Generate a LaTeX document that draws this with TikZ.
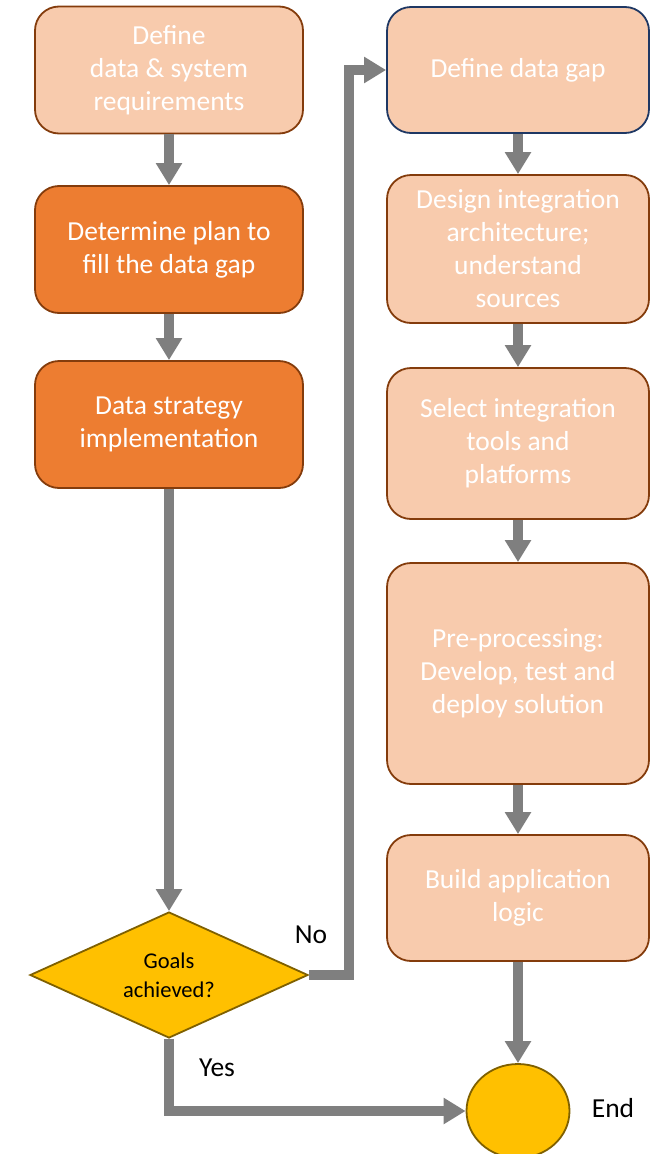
\documentclass[tikz,border=0pt]{standalone}
\usepackage{fontspec}
\setmainfont{Carlito}
\usetikzlibrary{shapes.geometric,arrows.meta}

\definecolor{peach}{HTML}{F8CBAD}
\definecolor{darkorange}{HTML}{ED7D31}
\definecolor{boxbrown}{HTML}{843C0C}
\definecolor{boxblue}{HTML}{1F3864}
\definecolor{goldfill}{HTML}{FFC000}
\definecolor{goldline}{HTML}{7F6000}
\definecolor{flowgray}{HTML}{7F7F7F}

\begin{document}
\begin{tikzpicture}[x=1pt, y=-1pt,
    box/.style={draw=boxbrown, line width=1.8pt, rounded corners=24pt, inner sep=0pt,
      align=center, text=white, font=\fontsize{27.5}{33}\selectfont},
    lightbox/.style={box, fill=peach},
    darkbox/.style={box, fill=darkorange},
    flow/.style={draw=flowgray, line width=10pt, line join=miter,
      -{Triangle[width=25pt,length=22pt]}},
    lbl/.style={font=\fontsize{27.5}{33}\selectfont}]
      \useasboundingbox (0,0) rectangle (649,1154);

      % left column
      \node[lightbox, minimum width=268pt, minimum height=127pt] (b1) at (169,70)
        {Define\\data \& system\\requirements};
      \node[darkbox, minimum width=268pt, minimum height=127pt] (b2) at (169,249.5)
        {Determine plan to\\fill the data gap};
      \node[darkbox, minimum width=268pt, minimum height=127pt] (b3) at (169,424.5)
        {Data strategy\\implementation};
      \node[diamond, aspect=2.2, draw=goldline, fill=goldfill, line width=1.8pt, inner sep=0pt,
        minimum width=278pt, minimum height=126pt, align=center,
        font=\fontsize{22.5}{29}\selectfont] (goal) at (169,975)
        {Goals\\achieved?};

      % right column
      \node[lightbox, draw=boxblue, minimum width=262pt, minimum height=126pt] (r1) at (518,70)
        {Define data gap};
      \node[lightbox, minimum width=262pt, minimum height=148pt] (r2) at (518,249)
        {Design integration\\architecture;\\understand\\sources};
      \node[lightbox, minimum width=262pt, minimum height=151pt] (r3) at (518,443.5)
        {Select integration\\tools and\\platforms};
      \node[lightbox, minimum width=262pt, minimum height=221pt] (r4) at (518,673.5)
        {Pre-processing:\\Develop, test and\\deploy solution};
      \node[lightbox, minimum width=262pt, minimum height=126pt] (r5) at (518,898)
        {Build application\\logic};
      \node[ellipse, draw=goldline, fill=goldfill, line width=1.8pt,
        minimum width=103pt, minimum height=94pt] (stop) at (518,1111) {};

      \node[lbl] (no) at (311,935) {No};
      \node[lbl] (yes) at (217,1068) {Yes};
      \node[lbl] (endlbl) at (613,1108) {End};

      \draw[flow] (b1) -- (b2);
      \draw[flow] (b2) -- (b3);
      \draw[flow] (b3) -- (goal);
      \draw[flow] (goal.east) -- ++(40,0) |- (r1.west);
      \draw[flow] (goal.south) |- (stop.west);

      \draw[flow] (r1) -- (r2);
      \draw[flow] (r2) -- (r3);
      \draw[flow] (r3) -- (r4);
      \draw[flow] (r4) -- (r5);
      \draw[flow] (r5) -- (stop);

    \end{tikzpicture}
\end{document}
